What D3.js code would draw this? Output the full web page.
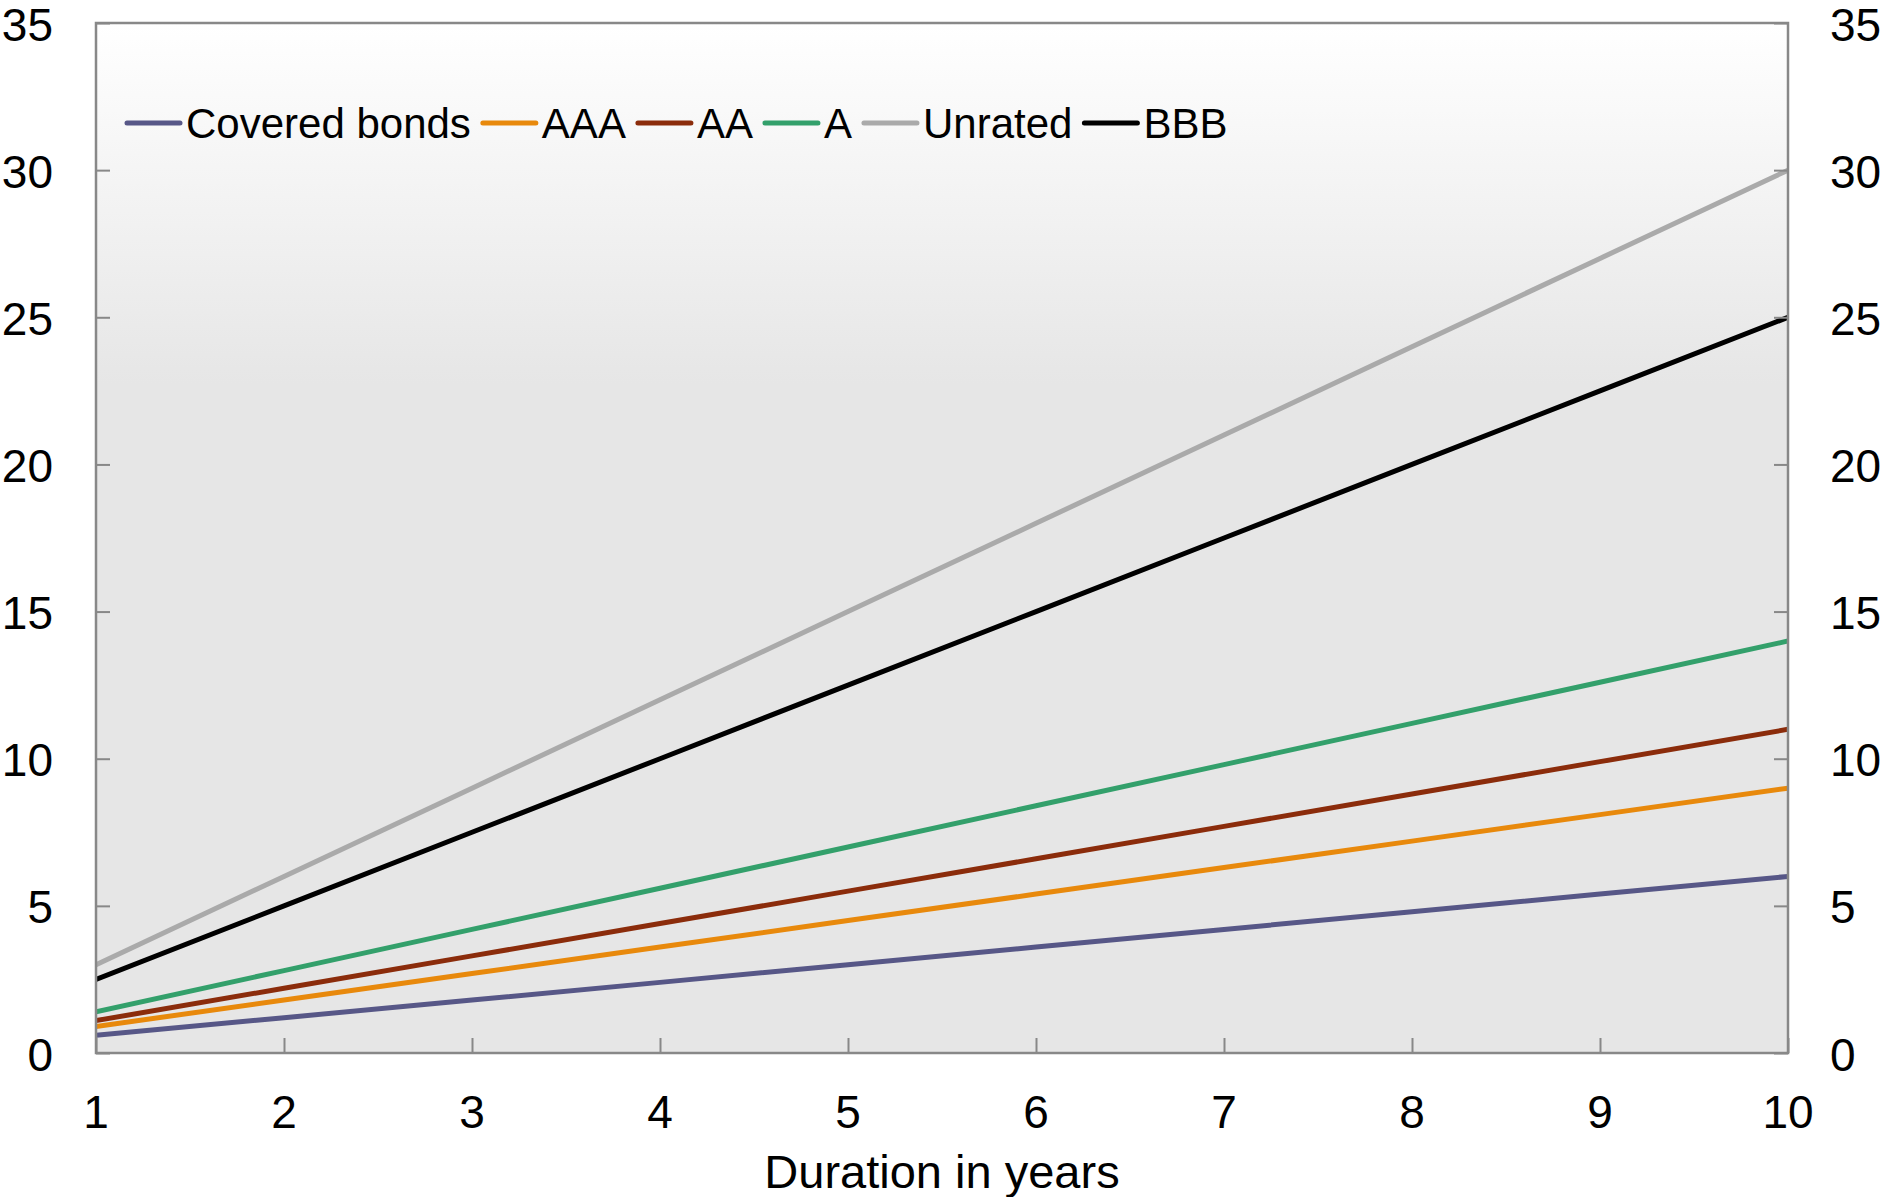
<!DOCTYPE html>
<html>
<head>
<meta charset="utf-8">
<script src="https://cdn.jsdelivr.net/npm/d3@7"></script>
<style>
  html, body { margin: 0; padding: 0; background: #fff; }
  svg text { font-family: Arial, "Liberation Sans", sans-serif; fill: #000; }
</style>
</head>
<body>
<svg id="chart" width="1883" height="1197"></svg>
<script>
// ---- data ----
const durations = [1, 2, 3, 4, 5, 6, 7, 8, 9, 10];
const seriesNames = ["Covered bonds", "AAA", "AA", "A", "Unrated", "BBB"];
const coveredBonds = [0.6, 1.2, 1.8, 2.4, 3.0, 3.6, 4.2, 4.8, 5.4, 6.0];
const aaa          = [0.9, 1.8, 2.7, 3.6, 4.5, 5.4, 6.3, 7.2, 8.1, 9.0];
const aa           = [1.1, 2.2, 3.3, 4.4, 5.5, 6.6, 7.7, 8.8, 9.9, 11.0];
const singleA      = [1.4, 2.8, 4.2, 5.6, 7.0, 8.4, 9.8, 11.2, 12.6, 14.0];
const unrated      = [3.0, 6.0, 9.0, 12.0, 15.0, 18.0, 21.0, 24.0, 27.0, 30.0];
const bbb          = [2.5, 5.0, 7.5, 10.0, 12.5, 15.0, 17.5, 20.0, 22.5, 25.0];
const yTicks = [0, 5, 10, 15, 20, 25, 30, 35];
const xTicks = [1, 2, 3, 4, 5, 6, 7, 8, 9, 10];
const xTitle = "Duration in years";

const seriesValues = [coveredBonds, aaa, aa, singleA, unrated, bbb];
const colors = ["#575787", "#e8890c", "#8b2c0b", "#33a06b", "#aaaaaa", "#000000"];

// ---- layout ----
const svg = d3.select("#chart");
const L = 96, R = 1788, T = 23, B = 1053;

const x = d3.scaleLinear().domain([1, 10]).range([L, R]);
const y = d3.scaleLinear().domain([0, 35]).range([B, T]);

// background gradient
const defs = svg.append("defs");
const grad = defs.append("linearGradient").attr("id", "bg")
  .attr("x1", 0).attr("y1", 0).attr("x2", 0).attr("y2", 1);
grad.append("stop").attr("offset", "0%").attr("stop-color", "#ffffff");
grad.append("stop").attr("offset", "35%").attr("stop-color", "#e6e6e6");
grad.append("stop").attr("offset", "100%").attr("stop-color", "#e6e6e6");

svg.append("rect").attr("x", L).attr("y", T).attr("width", R - L).attr("height", B - T)
  .attr("fill", "url(#bg)");

defs.append("clipPath").attr("id", "clip").append("rect")
  .attr("x", L).attr("y", T).attr("width", R - L).attr("height", B - T);

// lines
const line = d3.line().x((d, i) => x(durations[i])).y(d => y(d));
svg.append("g").attr("clip-path", "url(#clip)")
  .selectAll("path").data(seriesValues).join("path")
  .attr("d", d => line(d))
  .attr("fill", "none")
  .attr("stroke", (d, i) => colors[i])
  .attr("stroke-width", 5)
  .attr("stroke-linejoin", "round");

// axes (ticks inward)
const axisColor = "#888888";
const leftAxis = svg.append("g").attr("transform", `translate(${L},0)`)
  .call(d3.axisRight(y).tickValues(yTicks).tickSize(14).tickFormat(""));
const rightAxis = svg.append("g").attr("transform", `translate(${R},0)`)
  .call(d3.axisLeft(y).tickValues(yTicks).tickSize(14).tickFormat(""));
const bottomAxis = svg.append("g").attr("transform", `translate(0,${B})`)
  .call(d3.axisTop(x).tickValues(xTicks).tickSize(15).tickFormat(""));
[leftAxis, rightAxis, bottomAxis].forEach(g => {
  g.select(".domain").remove();
  g.selectAll("line").attr("stroke", axisColor).attr("stroke-width", 2);
});

// frame
svg.append("rect").attr("x", L).attr("y", T).attr("width", R - L).attr("height", B - T)
  .attr("fill", "none").attr("stroke", axisColor).attr("stroke-width", 2.5);

// tick labels
const tickFont = 46;
svg.append("g").selectAll("text").data(yTicks).join("text")
  .attr("x", 53).attr("y", d => y(d) + 1).attr("dy", "0.36em")
  .attr("text-anchor", "end").attr("font-size", tickFont).text(d => d);
svg.append("g").selectAll("text").data(yTicks).join("text")
  .attr("x", 1830).attr("y", d => y(d) + 1).attr("dy", "0.36em")
  .attr("text-anchor", "start").attr("font-size", tickFont).text(d => d);
svg.append("g").selectAll("text").data(xTicks).join("text")
  .attr("x", d => x(d)).attr("y", 1128)
  .attr("text-anchor", "middle").attr("font-size", tickFont).text(d => d);

// axis title
svg.append("text").attr("x", (L + R) / 2).attr("y", 1188)
  .attr("text-anchor", "middle").attr("font-size", 47).text(xTitle);

// legend
const legend = svg.append("g");
let lx = 127;
const ly = 123;
seriesNames.forEach((name, i) => {
  legend.append("line").attr("x1", lx).attr("x2", lx + 53).attr("y1", ly).attr("y2", ly)
    .attr("stroke", colors[i]).attr("stroke-width", 5).attr("stroke-linecap", "round");
  const t = legend.append("text").attr("x", lx + 59).attr("y", ly).attr("dy", "0.36em")
    .attr("font-size", 42).text(name);
  lx = lx + 59 + t.node().getComputedTextLength() + 12;
});
</script>
</body>
</html>
